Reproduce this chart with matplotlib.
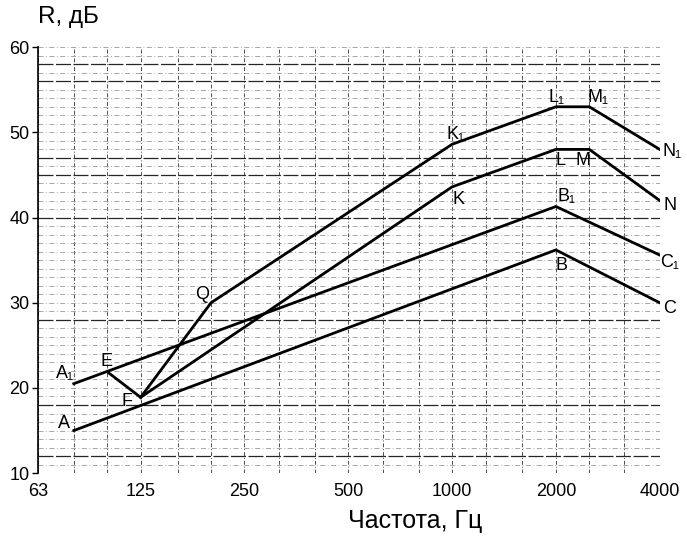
import matplotlib.pyplot as plt
from matplotlib.ticker import NullLocator, FixedLocator

plt.rcParams['font.family'] = ['Liberation Sans', 'DejaVu Sans']

# ---------- DATA ----------
freq_ticks = [63, 125, 250, 500, 1000, 2000, 4000]
third_octaves = [63, 80, 100, 125, 160, 200, 250, 315, 400, 500, 630, 800,
                 1000, 1250, 1600, 2000, 2500, 3150, 4000]

# A - B - C
abc_f = [80, 2000, 4000]
abc_r = [15, 36.2, 30]
# A1 - B1 - C1
a1b1c1_f = [80, 2000, 4000]
a1b1c1_r = [20.5, 41.3, 35.6]
# E - F
ef_f = [100, 125]
ef_r = [21.9, 18.9]
# F - K - L - M - N
fklmn_f = [125, 1000, 2000, 2500, 4000]
fklmn_r = [18.9, 43.6, 48, 48, 42]
# F - Q - K1 - L1 - M1 - N1
fq_f = [125, 200, 1000, 2000, 2500, 4000]
fq_r = [18.9, 30, 48.6, 53, 53, 48]

# point labels: text, freq, R, dx (px), dy (px)
labels = [
    ("A", 80, 15, -10, 7),
    ("A\u2081", 80, 20.5, -9, 10),
    ("E", 100, 21.9, -1, 10),
    ("F", 125, 18.9, -14, -4),
    ("Q", 200, 30, -9, 8),
    ("K\u2081", 1000, 48.6, 3, 10),
    ("K", 1000, 43.6, 6, -13),
    ("L\u2081", 2000, 53, 1, 9),
    ("M\u2081", 2500, 53, 9, 9),
    ("L", 2000, 48, 5, -11),
    ("M", 2500, 48, -6, -11),
    ("B\u2081", 2000, 41.3, 11, 10),
    ("B", 2000, 36.2, 6, -16),
    ("N\u2081", 4000, 48, 12, -2),
    ("N", 4000, 42, 10, -5),
    ("C\u2081", 4000, 35.6, 10, -7),
    ("C", 4000, 30, 10, -6),
]

heavy_grid = [12, 18, 28, 40, 45, 47, 56, 58]

# ---------- PLOT ----------
fig = plt.figure(figsize=(6.87, 5.42), dpi=100)
ax = fig.add_axes([0.0553, 0.127, 0.905, 0.786])
ax.set_xscale('log')
ax.set_xlim(63, 4000)
ax.set_ylim(10, 60)

# grid
for f in third_octaves:
    ax.axvline(f, color='0.3', lw=0.7, ls=(0, (4, 2, 1, 2)), zorder=1)
for r in range(10, 61):
    if r in heavy_grid:
        ax.axhline(r, color='0.15', lw=0.9, ls=(0, (12, 2)), zorder=1)
    else:
        ax.axhline(r, color='0.6', lw=0.6, ls=(0, (6, 3, 1, 3)), zorder=1)

for fs, rs in [(abc_f, abc_r), (a1b1c1_f, a1b1c1_r), (ef_f, ef_r),
               (fklmn_f, fklmn_r), (fq_f, fq_r)]:
    ax.plot(fs, rs, color='black', lw=2, zorder=3)

for txt, f, r, dx, dy in labels:
    ax.annotate(txt, (f, r), xytext=(dx, dy), textcoords='offset pixels',
                ha='center', va='center', fontsize=13, zorder=4)

ax.xaxis.set_major_locator(FixedLocator(freq_ticks))
ax.xaxis.set_minor_locator(NullLocator())
ax.set_xticks(freq_ticks)
ax.set_xticklabels([str(f) for f in freq_ticks])
ax.set_yticks(range(10, 61, 10))
ax.tick_params(axis='y', labelsize=13, length=4, width=1, pad=2)
ax.tick_params(axis='x', labelsize=13, length=0, pad=7)

for s in ['top', 'right', 'bottom']:
    ax.spines[s].set_visible(False)
ax.spines['left'].set_linewidth(1.2)

fig.text(0.055, 0.969, "R, дБ", fontsize=17.5, ha='left', va='center')
fig.text(0.605, 0.039, "Частота, Гц", fontsize=18, ha='center', va='center')

fig.savefig("out.png", dpi=100)
